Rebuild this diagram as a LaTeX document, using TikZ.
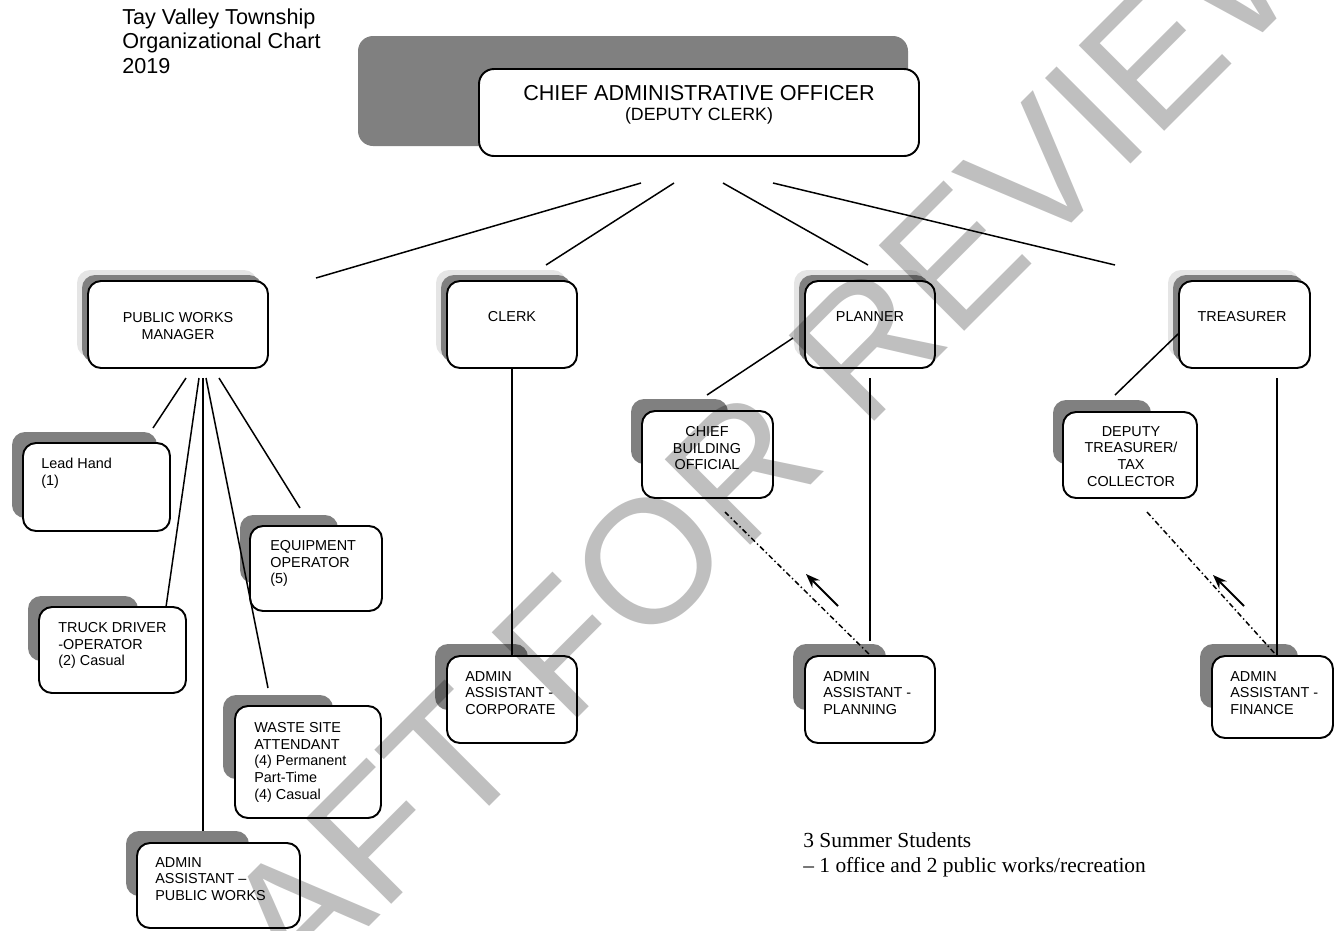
\documentclass[tikz,border=0pt]{standalone}
\usepackage{fontspec}
\setmainfont{Liberation Sans}
\newfontfamily\notefont{Liberation Serif}
\usetikzlibrary{arrows.meta,fit}

\tikzset{
  orgbox/.style={draw, line width=1.1pt, rounded corners=2.6mm, fill=white, inner sep=0pt},
  darkshade/.style={fill=black!50, rounded corners=2.6mm},
  haloshade/.style={fill=black!10, rounded corners=2.6mm},
  boxtext/.style={inner sep=0pt, align=left, font=\fontsize{8.2}{9.5}\selectfont},
  link/.style={line width=0.85pt},
  dotlink/.style={line width=0.85pt, dash pattern=on 3pt off 1.6pt on 0.8pt off 1.6pt},
  backarrow/.style={line width=1.1pt, -{Stealth[length=8pt,width=6pt]}},
}

\begin{document}
\begin{tikzpicture}[x=0.2mm, y=-0.2mm]
\useasboundingbox (0,0) rectangle (1334,930);

\node[anchor=north west, inner sep=0pt, align=left, font=\fontsize{12.3}{14.2}\selectfont] (title) at (122,8) {Tay Valley Township\\Organizational Chart\\2019};

\fill[darkshade, rounded corners=3mm] (358,36) rectangle (908,146);
\node[orgbox, rounded corners=3mm, fit={(479,69) (919,156)}] (cao) {};
\node[font=\fontsize{12.3}{14}\selectfont] (caoT) at (699,93) {CHIEF ADMINISTRATIVE OFFICER};
\node[font=\fontsize{10.1}{12}\selectfont] (caoS) at (699,116) {(DEPUTY CLERK)};

\fill[haloshade] (77,270) rectangle (257,357);
\fill[darkshade] (82,275) rectangle (262,362);
\node[orgbox, fit={(88,281) (268,368)}] (pwm) {};
\node[boxtext, align=center, anchor=north] (pwmT) at (178,312) {PUBLIC WORKS\\MANAGER};

\fill[haloshade] (436,270) rectangle (566,357);
\fill[darkshade] (441,275) rectangle (571,362);
\node[orgbox, fit={(447,281) (577,368)}] (clerk) {};
\node[boxtext] (clerkT) at (512,317) {CLERK};

\fill[haloshade] (794,270) rectangle (924,357);
\fill[darkshade] (799,275) rectangle (929,362);
\node[orgbox, fit={(805,281) (935,368)}] (planner) {};
\node[boxtext] (plannerT) at (870,317) {PLANNER};

\fill[haloshade] (1168,270) rectangle (1299,357);
\fill[darkshade] (1173,275) rectangle (1304,362);
\node[orgbox, fit={(1179,281) (1310,368)}] (treas) {};
\node[boxtext] (treasT) at (1242,317) {TREASURER};

\fill[darkshade] (12,432) rectangle (157,518);
\node[orgbox, fit={(23,443) (170,531)}] (lead) {};
\node[boxtext, anchor=north west] (leadT) at (41,458) {Lead Hand\\(1)};

\fill[darkshade] (240,515) rectangle (338,583);
\node[orgbox, fit={(250,526) (382,611)}] (equip) {};
\node[boxtext, anchor=north west] (equipT) at (270,540) {EQUIPMENT\\OPERATOR\\(5)};

\fill[darkshade] (28,596) rectangle (138,661);
\node[orgbox, fit={(39,607) (186,693)}] (truck) {};
\node[boxtext, anchor=north west] (truckT) at (58,622) {TRUCK DRIVER\\-OPERATOR\\(2) Casual};

\fill[darkshade] (223,695) rectangle (333,779);
\node[orgbox, fit={(235,706) (381,818)}] (waste) {};
\node[boxtext, anchor=north west] (wasteT) at (254,722) {WASTE SITE\\ATTENDANT\\(4) Permanent\\Part-Time\\(4) Casual};

\fill[darkshade] (126,831) rectangle (249,896);
\node[orgbox, fit={(137,843) (300,928)}] (adminpw) {};
\node[boxtext, anchor=north west] (adminpwT) at (155,857) {ADMIN\\ASSISTANT –\\PUBLIC WORKS};

\fill[darkshade] (631,399) rectangle (728,464);
\node[orgbox, fit={(642,411) (773,498)}] (cbo) {};
\node[boxtext, align=center, anchor=north] (cboT) at (707,426) {CHIEF\\BUILDING\\OFFICIAL};

\fill[darkshade] (1053,400) rectangle (1151,464);
\node[orgbox, fit={(1063,412) (1197,498)}] (deptr) {};
\node[boxtext, align=center, anchor=north] (deptrT) at (1131,426) {DEPUTY\\TREASURER/\\TAX\\COLLECTOR};

\fill[darkshade] (435,644) rectangle (528,710);
\node[orgbox, fit={(447,656) (577,743)}] (admincorp) {};
\node[boxtext, anchor=north west] (admincorpT) at (465,671) {ADMIN\\ASSISTANT -\\CORPORATE};

\fill[darkshade] (793,644) rectangle (886,710);
\node[orgbox, fit={(805,656) (935,743)}] (adminplan) {};
\node[boxtext, anchor=north west] (adminplanT) at (823,671) {ADMIN\\ASSISTANT -\\PLANNING};

\fill[darkshade] (1200,644) rectangle (1298,708);
\node[orgbox, fit={(1212,656) (1333,738)}] (adminfin) {};
\node[boxtext, anchor=north west] (adminfinT) at (1230,671) {ADMIN\\ASSISTANT -\\FINANCE};

\node[anchor=north west, inner sep=0pt, align=left, font=\notefont\fontsize{12.2}{14.2}\selectfont] (summer) at (803,832) {3 Summer Students\\– 1 office and 2 public works/recreation};

\coordinate (cao-pwm) at (641,183);
\coordinate (cao-clerk) at (674,183);
\coordinate (cao-plan) at (723,183);
\coordinate (cao-treas) at (773,183);
\coordinate (pwm-in) at (316,278);
\coordinate (clerk-in) at (546,265);
\coordinate (plan-in) at (868,265);
\coordinate (treas-in) at (1115,265);
\draw[link] (cao-pwm) -- (pwm-in);
\draw[link] (cao-clerk) -- (clerk-in);
\draw[link] (cao-plan) -- (plan-in);
\draw[link] (cao-treas) -- (treas-in);

\coordinate (pwm-lead) at (186,378);
\coordinate (pwm-truck) at (199,378);
\coordinate (pwm-admin) at (203,378);
\coordinate (pwm-waste) at (206,378);
\coordinate (pwm-equip) at (219,378);
\coordinate (lead-in) at (153,428);
\coordinate (truck-in) at (166,607);
\coordinate (adminpw-in) at (203,831);
\coordinate (waste-in) at (268,688);
\coordinate (equip-in) at (300,508);
\draw[link] (pwm-lead) -- (lead-in);
\draw[link] (pwm-truck) -- (truck-in);
\draw[link] (pwm-admin) -- (adminpw-in);
\draw[link] (pwm-waste) -- (waste-in);
\draw[link] (pwm-equip) -- (equip-in);

\draw[link] (clerk.south) -- (admincorp.north);

\coordinate (plan-cbo) at (793,338);
\coordinate (cbo-in) at (707,395);
\coordinate (plan-dn) at (870,378);
\coordinate (adminplan-in) at (870,641);
\coordinate (cbo-dn) at (725,512);
\coordinate (plan-tail) at (838,606);
\coordinate (plan-head) at (806,574);
\draw[link] (plan-cbo) -- (cbo-in);
\draw[link] (plan-dn) -- (adminplan-in);
\draw[dotlink] (cbo-dn) -- (adminplan.north);
\draw[backarrow] (plan-tail) -- (plan-head);

\coordinate (treas-dep) at (1178,334);
\coordinate (dep-in) at (1115,395);
\coordinate (treas-dn) at (1277,378);
\coordinate (fin-in) at (1277,656);
\coordinate (dep-dn) at (1147,512);
\coordinate (fin-tail) at (1244,606);
\coordinate (fin-head) at (1213,575);
\draw[link] (treas-dep) -- (dep-in);
\draw[link] (treas-dn) -- (fin-in);
\draw[dotlink] (dep-dn) -- (fin-in);
\draw[backarrow] (fin-tail) -- (fin-head);

\node[rotate=45, opacity=0.25, inner sep=0pt, font=\fontsize{100}{100}\selectfont] (wm) at (694,516) {DRAFT FOR REVIEW};
\end{tikzpicture}
\end{document}
